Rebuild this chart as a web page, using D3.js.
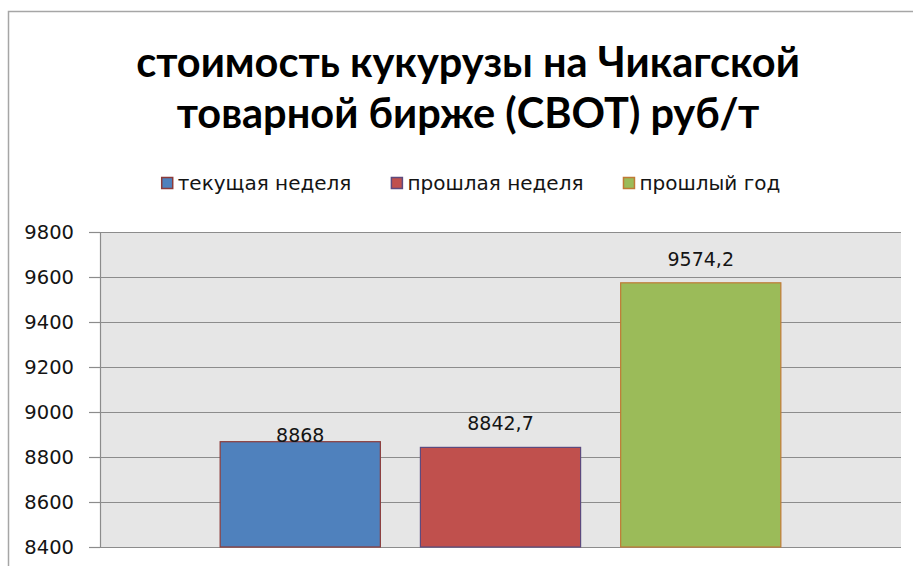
<!DOCTYPE html>
<html>
<head>
<meta charset="utf-8">
<script src="https://cdn.jsdelivr.net/npm/d3@7"></script>
<style>
  body { margin: 0; background: #fff; }
  svg { display: block; }
</style>
</head>
<body>
<svg id="chart" width="913" height="566"></svg>
<script>
// ----------------------- DATA -------------------------------
var series = ["текущая неделя", "прошлая неделя", "прошлый год"];
var values = [8868, 8842.7, 9574.2];
var valueLabels = ["8868", "8842,7", "9574,2"];
var yTicks = [8400, 8600, 8800, 9000, 9200, 9400, 9600, 9800];
var titleLines = ["стоимость кукурузы на Чикагской", "товарной бирже (CBOT) руб/т"];

var fills = ["#4f81bd", "#c0504d", "#9bbb59"];
var strokes = ["#8c3b3a", "#5d4a7e", "#c07a35"];

var svg = d3.select("#chart"),
    margin = {top: 232, right: 12, bottom: 19, left: 100},
    width = +svg.attr("width") - margin.left - margin.right,
    height = +svg.attr("height") - margin.top - margin.bottom;

// outer chart frame (only top and left edges are visible)
svg.append("rect")
    .attr("x", 8.5).attr("y", 11.5)
    .attr("width", 1000).attr("height", 1000)
    .attr("fill", "none")
    .attr("stroke", "#a6a6a6")
    .attr("stroke-width", 1.5);

// title
svg.append("g")
    .attr("font-family", "Lato, 'Open Sans', sans-serif")
    .attr("font-weight", "bold")
    .attr("font-size", 41.5)
    .attr("text-anchor", "middle")
    .attr("fill", "#000")
  .selectAll("text")
  .data(titleLines)
  .enter().append("text")
    .attr("x", 468)
    .attr("y", function(d, i) { return 77 + i * 51; })
    .text(function(d) { return d; });

var g = svg.append("g").attr("transform", "translate(" + margin.left + "," + margin.top + ")");

var x = d3.scaleBand()
    .domain(series)
    .range([0, width])
    .paddingInner(0.2)
    .paddingOuter(0.6);

var y = d3.scaleLinear()
    .domain([8400, 9800])
    .range([height, 0]);

// plot background
g.append("rect")
    .attr("width", width)
    .attr("height", height)
    .attr("fill", "#e6e6e6");

// gridlines
g.append("g")
  .selectAll("line")
  .data(yTicks)
  .enter().append("line")
    .attr("x1", 0).attr("x2", width)
    .attr("y1", function(d) { return Math.round(y(d)) + 0.5; })
    .attr("y2", function(d) { return Math.round(y(d)) + 0.5; })
    .attr("stroke", "#8c8c8c")
    .attr("stroke-width", 1.2);

// y axis
var yAxis = g.append("g")
    .call(d3.axisLeft(y).tickValues(yTicks).tickSize(11).tickPadding(15).tickFormat(d3.format("d")));
yAxis.select(".domain").attr("stroke", "#8c8c8c").attr("stroke-width", 1.2);
yAxis.selectAll(".tick line").attr("stroke", "#8c8c8c").attr("stroke-width", 1.2);
yAxis.selectAll(".tick text")
    .attr("font-family", "'DejaVu Sans', Verdana, sans-serif")
    .attr("font-size", 19.5)
    .attr("fill", "#141414");

// bars
g.append("g")
  .selectAll("rect")
  .data(values)
  .enter().append("rect")
    .attr("x", function(d, i) { return x(series[i]); })
    .attr("y", function(d) { return y(d); })
    .attr("width", x.bandwidth())
    .attr("height", function(d) { return height - y(d); })
    .attr("fill", function(d, i) { return fills[i]; })
    .attr("stroke", function(d, i) { return strokes[i]; })
    .attr("stroke-width", 1.2);

// data labels (first one sits lower in the original, over the bar top)
g.append("g")
    .attr("font-family", "'DejaVu Sans', Verdana, sans-serif")
    .attr("font-size", 19)
    .attr("text-anchor", "middle")
    .attr("fill", "#141414")
  .selectAll("text")
  .data(values)
  .enter().append("text")
    .attr("x", function(d, i) { return x(series[i]) + x.bandwidth() / 2; })
    .attr("y", function(d, i) { return y(d) - (i === 0 ? 0 : 17); })
    .text(function(d, i) { return valueLabels[i]; });

// legend
var legend = svg.append("g")
    .attr("font-family", "'DejaVu Sans', Tahoma, sans-serif")
    .attr("font-size", 20)
    .attr("fill", "#141414");

var items = legend.selectAll("g")
    .data(series)
  .enter().append("g");

items.append("rect")
    .attr("y", 177.5)
    .attr("width", 11)
    .attr("height", 11)
    .attr("fill", function(d, i) { return fills[i]; })
    .attr("stroke", function(d, i) { return strokes[i]; })
    .attr("stroke-width", 1.5);

items.append("text")
    .attr("x", 16)
    .attr("y", 190)
    .text(function(d) { return d; });

var pos = 0, gap = 40;
items.each(function() {
  var w = this.getBBox().width;
  d3.select(this).attr("data-x", pos);
  pos += w + gap;
});
var total = pos - gap, start = 471 - total / 2;
items.attr("transform", function() { return "translate(" + (start + +d3.select(this).attr("data-x")) + ",0)"; });
</script>
</body>
</html>
